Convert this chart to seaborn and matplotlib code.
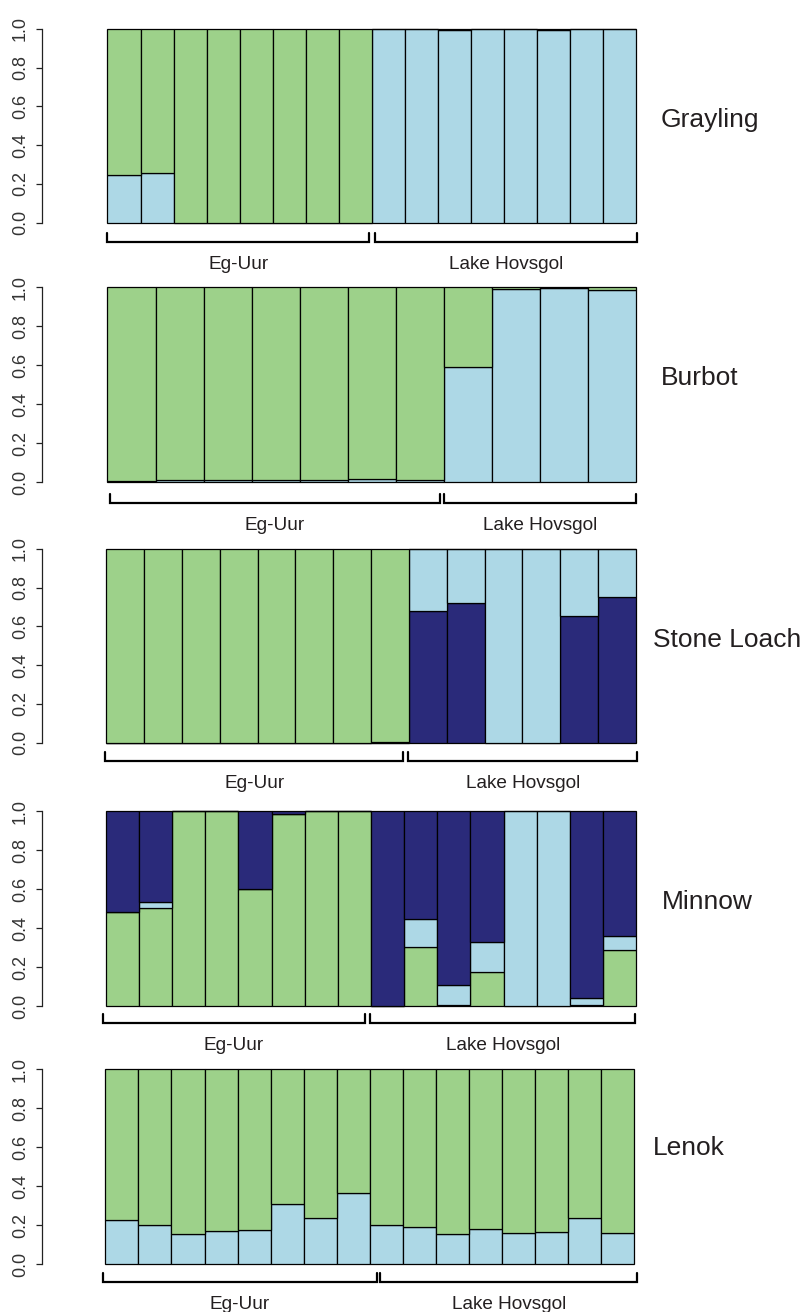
import numpy as np
import matplotlib
matplotlib.use("Agg")
import matplotlib.pyplot as plt
import seaborn as sns

# ancestry proportions per individual
grayling_blue = [0.247, 0.258, 0.0, 0.0, 0.0, 0.0, 0.0, 0.0, 1.0, 1.0, 0.995, 1.0, 1.0, 0.995, 1.0, 1.0]
grayling_green = [0.753, 0.742, 1.0, 1.0, 1.0, 1.0, 1.0, 1.0, 0.0, 0.0, 0.005, 0.0, 0.0, 0.005, 0.0, 0.0]

burbot_blue = [0.004, 0.012, 0.008, 0.008, 0.012, 0.015, 0.008, 0.592, 0.991, 0.995, 0.988]
burbot_green = [0.996, 0.988, 0.992, 0.992, 0.988, 0.985, 0.992, 0.408, 0.009, 0.005, 0.012]

loach_navy = [0.0, 0.0, 0.0, 0.0, 0.0, 0.0, 0.0, 0.0, 0.679, 0.72, 0.0, 0.0, 0.655, 0.751]
loach_blue = [0.0, 0.0, 0.0, 0.0, 0.0, 0.0, 0.0, 0.005, 0.321, 0.28, 1.0, 1.0, 0.345, 0.249]
loach_green = [1.0, 1.0, 1.0, 1.0, 1.0, 1.0, 1.0, 0.995, 0.0, 0.0, 0.0, 0.0, 0.0, 0.0]

minnow_green = [0.483, 0.503, 1.0, 1.0, 0.603, 0.986, 1.0, 1.0, 0.0, 0.301, 0.005, 0.173, 0.0, 0.0, 0.004, 0.289]
minnow_blue = [0.0, 0.030, 0.0, 0.0, 0.0, 0.0, 0.0, 0.0, 0.0, 0.144, 0.105, 0.156, 1.0, 1.0, 0.036, 0.072]
minnow_navy = [0.517, 0.467, 0.0, 0.0, 0.397, 0.014, 0.0, 0.0, 1.0, 0.555, 0.89, 0.671, 0.0, 0.0, 0.96, 0.639]

lenok_blue = [0.224, 0.199, 0.152, 0.168, 0.175, 0.31, 0.235, 0.363, 0.202, 0.188, 0.154, 0.182, 0.158, 0.166, 0.236, 0.161]
lenok_green = [0.776, 0.801, 0.848, 0.832, 0.825, 0.69, 0.765, 0.637, 0.798, 0.812, 0.846, 0.818, 0.842, 0.834, 0.764, 0.839]

species = ["Grayling", "Burbot", "Stone Loach", "Minnow", "Lenok"]
groups = ["Eg-Uur", "Lake Hovsgol"]
yticks = [0.0, 0.2, 0.4, 0.6, 0.8, 1.0]

GREEN = "#9dd18a"
LBLUE = "#add8e6"
NAVY = "#2a2a7a"
TEXT = "#231f20"

# layers bottom -> top
stacks = [
    [(grayling_blue, LBLUE), (grayling_green, GREEN)],
    [(burbot_blue, LBLUE), (burbot_green, GREEN)],
    [(loach_navy, NAVY), (loach_blue, LBLUE), (loach_green, GREEN)],
    [(minnow_green, GREEN), (minnow_blue, LBLUE), (minnow_navy, NAVY)],
    [(lenok_blue, LBLUE), (lenok_green, GREEN)],
]

# layout in output pixels (from top-left)
W, H = 803, 1312
axis_x = 42
bar_left = [107.5, 107.5, 106.3, 106, 105.4]
bar_right = [636, 636, 636, 636, 634]
y_top = [28.7, 287.3, 548.7, 811.3, 1069.3]
y_bottom = [222.7, 482, 742.7, 1006, 1264]
bracket_y = [242.3, 502.7, 760.7, 1023.3, 1281.7]
bracket_x = [
    [(107.5, 368.8), (375, 637.5)],
    [(109.6, 439.6), (443.8, 636)],
    [(105.4, 403), (408, 637.5)],
    [(103, 364.6), (370, 635.4)],
    [(103, 377), (380, 637.5)],
]
label_pos = [(661, 126.7), (660.7, 385.3), (653.3, 646.7), (661.7, 909.3), (653.3, 1155)]

sns.set_theme(style="white")
plt.rcParams["font.family"] = ["Liberation Sans", "DejaVu Sans"]

fig = plt.figure(figsize=(W / 100, H / 100), dpi=100)
fig.patch.set_facecolor("white")


def fx(x):
    return x / W


def fy(y):
    return 1 - y / H


for k, layers in enumerate(stacks):
    n = len(layers[0][0])
    right_px = 640
    ax = fig.add_axes([fx(axis_x), fy(y_bottom[k]), fx(right_px - axis_x),
                       (y_bottom[k] - y_top[k]) / H])
    bw = (bar_right[k] - bar_left[k]) / n
    pos = list(range(n))
    bottom = np.zeros(n)
    for vals, col in layers:
        sns.barplot(x=pos, y=vals, bottom=bottom, color=col, width=1, saturation=1,
                    errorbar=None, edgecolor="black", linewidth=0.9, clip_on=False, ax=ax)
        bottom = bottom + np.array(vals)

    ax.set_xlim(-0.5 - (bar_left[k] - axis_x) / bw, n - 0.5 + (right_px - bar_right[k]) / bw)
    ax.set_ylim(0, 1)
    ax.set_xticks([])
    ax.set_xlabel("")
    ax.set_ylabel("")
    for side in ["top", "right", "bottom"]:
        ax.spines[side].set_visible(False)
    ax.spines["left"].set_bounds(0, 1)
    ax.spines["left"].set_linewidth(0.9)
    ax.spines["left"].set_color("#222222")
    ax.set_yticks(yticks)
    ax.set_yticklabels([f"{t:.1f}" for t in yticks], rotation=90, va="center")
    ax.tick_params(axis="y", length=4.3, width=0.9, pad=5, labelsize=13,
                   labelcolor="#333333", color="#222222", left=True)
    ax.patch.set_alpha(0)

    # group brackets
    yb = bracket_y[k]
    for (x0, x1), name in zip(bracket_x[k], groups):
        fig.add_artist(plt.Line2D([fx(x0), fx(x0), fx(x1), fx(x1)],
                                  [fy(yb - 9), fy(yb), fy(yb), fy(yb - 9)],
                                  color="black", linewidth=1.6, solid_joinstyle="miter",
                                  transform=fig.transFigure))
        fig.text(fx((x0 + x1) / 2), fy(yb + 27), name, ha="center", va="baseline",
                 fontsize=13.7, color=TEXT)

    lx, ly = label_pos[k]
    fig.text(fx(lx), fy(ly), species[k], ha="left", va="baseline", fontsize=19, color=TEXT)

fig.savefig("out.png", dpi=100, facecolor="white")
